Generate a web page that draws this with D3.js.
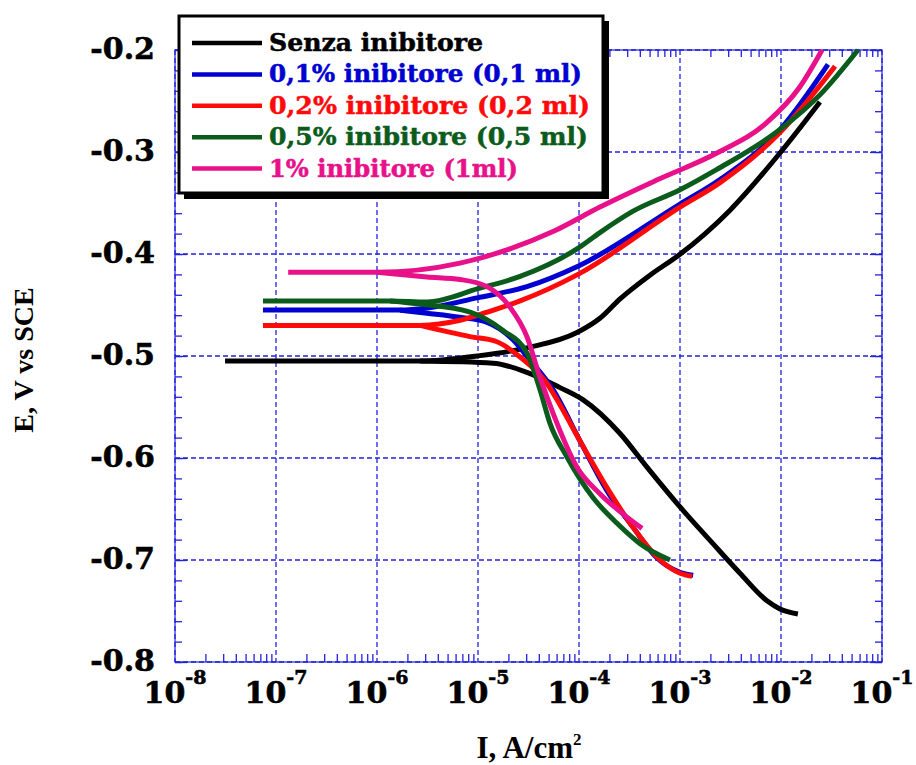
<!DOCTYPE html>
<html>
<head>
<meta charset="utf-8">
<script src="https://cdn.jsdelivr.net/npm/d3@7"></script>
<style>
body { margin: 0; background: #fff; }
svg { display: block; }
</style>
</head>
<body>
<svg width="916" height="765"></svg>
<script>
// [current density A/cm2, potential V vs SCE]
// each curve: anodic branch (from the flat Ecorr tail up) and cathodic branch (down)
var senzaAnodic = [[3.13e-8,-0.505],[2.67e-6,-0.505],[9.77e-6,-0.500],[3.05e-5,-0.492],[9.55e-5,-0.477],
    [1.61e-4,-0.463],[2.55e-4,-0.444],[5.0e-4,-0.421],[9.77e-4,-0.401],[3.13e-3,-0.357],[9.77e-3,-0.301],[2.43e-2,-0.251]]
var senzaCathodic = [[2.67e-6,-0.505],[1.41e-5,-0.507],[3.05e-5,-0.516],[6.49e-5,-0.531],[1.10e-4,-0.543],
    [2.55e-4,-0.576],[4.71e-4,-0.609],[1.00e-3,-0.648],[2.12e-3,-0.684],[3.93e-3,-0.713],[7.26e-3,-0.740],[9.77e-3,-0.748],[1.47e-2,-0.753]]

var inib01Anodic = [[7.43e-8,-0.455],[1.69e-6,-0.455],[3.13e-6,-0.453],[9.77e-6,-0.443],[3.05e-5,-0.432],
    [9.77e-5,-0.412],[1.00e-3,-0.351],[2.49e-3,-0.327],[9.77e-3,-0.278],[2.92e-2,-0.214]]
var inib01Cathodic = [[1.69e-6,-0.455],[3.13e-6,-0.458],[6.64e-6,-0.462],[1.23e-5,-0.467],[2.22e-5,-0.484],
    [3.27e-5,-0.504],[5.53e-5,-0.533],[1.02e-4,-0.583],[1.89e-4,-0.632],[3.43e-4,-0.668],[5.92e-4,-0.698],[1.00e-3,-0.712],[1.35e-3,-0.715]]

var inib02Anodic = [[7.43e-8,-0.470],[2.67e-6,-0.470],[6.64e-6,-0.465],[1.23e-5,-0.457],[2.61e-5,-0.446],
    [9.77e-5,-0.420],[1.00e-3,-0.354],[2.49e-3,-0.330],[9.77e-3,-0.281],[3.43e-2,-0.216]]
var inib02Cathodic = [[2.67e-6,-0.470],[8.34e-6,-0.481],[1.54e-5,-0.486],[2.61e-5,-0.501],[4.82e-5,-0.527],
    [6.49e-5,-0.548],[1.02e-4,-0.583],[1.89e-4,-0.629],[3.43e-4,-0.668],[6.34e-4,-0.700],[1.00e-3,-0.713],[1.32e-3,-0.716]]

var inib05Anodic = [[7.43e-8,-0.446],[1.35e-6,-0.446],[3.13e-6,-0.447],[1.00e-5,-0.434],[2.61e-5,-0.422],
    [9.55e-5,-0.395],[1.61e-4,-0.379],[3.43e-4,-0.358],[1.00e-3,-0.337],[2.32e-3,-0.317],[9.77e-3,-0.278],[2.43e-2,-0.244],[5.78e-2,-0.200]]
var inib05Cathodic = [[1.35e-6,-0.446],[2.67e-6,-0.449],[8.34e-6,-0.457],[1.77e-5,-0.475],[3.05e-5,-0.497],
    [4.11e-5,-0.533],[5.16e-5,-0.566],[7.60e-5,-0.599],[1.38e-4,-0.639],[2.38e-4,-0.664],[4.02e-4,-0.684],[7.96e-4,-0.700]]

var inib1Anodic = [[1.32e-7,-0.418],[1.00e-6,-0.418],[6.64e-6,-0.409],[2.07e-5,-0.395],[5.53e-5,-0.378],
    [1.61e-4,-0.354],[6.05e-4,-0.327],[2.32e-3,-0.301],[7.26e-3,-0.271],[1.54e-2,-0.236],[2.55e-2,-0.200]]
var inib1Cathodic = [[1.00e-6,-0.418],[3.13e-6,-0.4225],[6.64e-6,-0.425],[1.23e-5,-0.432],[2.07e-5,-0.452],
    [3.05e-5,-0.481],[4.11e-5,-0.521],[5.53e-5,-0.556],[9.55e-5,-0.609],[1.61e-4,-0.635],[2.99e-4,-0.658],[4.21e-4,-0.669]]

var legendLabels = ["Senza inibitore", "0,1% inibitore (0,1 ml)", "0,2% inibitore (0,2 ml)",
    "0,5% inibitore (0,5 ml)", "1% inibitore (1ml)"]
var lineColors = ["#000000", "#0000d0", "#ff0a0a", "#0b5c1c", "#e8118a"]

var yTicks = [-0.8, -0.7, -0.6, -0.5, -0.4, -0.3, -0.2]
var xTickExponents = [-8, -7, -6, -5, -4, -3, -2, -1]

var curves = [
    [senzaAnodic, senzaCathodic],
    [inib01Anodic, inib01Cathodic],
    [inib02Anodic, inib02Cathodic],
    [inib05Anodic, inib05Cathodic],
    [inib1Anodic, inib1Cathodic]
]

var svg = d3.select("svg")
var margin = {top: 50, right: 34, bottom: 103, left: 175},
    width = 916 - margin.left - margin.right,
    height = 765 - margin.top - margin.bottom

var x = d3.scaleLog().domain([1e-8, 1e-1]).range([0, width])
var y = d3.scaleLinear().domain([-0.8, -0.2]).range([height, 0])

var g = svg.append("g").attr("transform", "translate(" + margin.left + "," + margin.top + ")")

var gridColor = "#2222dd"

// dashed grid
var xMajor = xTickExponents.map(function(e){ return Math.pow(10, e) })
g.selectAll(".vgrid").data(xMajor).enter().append("line")
    .attr("x1", function(d){ return x(d) }).attr("x2", function(d){ return x(d) })
    .attr("y1", 0).attr("y2", height)
    .attr("stroke", gridColor).attr("stroke-width", 1.3).attr("stroke-dasharray", "5,3")
g.selectAll(".hgrid").data(yTicks).enter().append("line")
    .attr("x1", 0).attr("x2", width)
    .attr("y1", function(d){ return y(d) }).attr("y2", function(d){ return y(d) })
    .attr("stroke", gridColor).attr("stroke-width", 1.3).attr("stroke-dasharray", "5,3")

// frame
g.append("rect").attr("width", width).attr("height", height)
    .attr("fill", "none").attr("stroke", gridColor).attr("stroke-width", 1.2)

// minor/major ticks pointing inward
var xMinor = []
xTickExponents.slice(0, -1).forEach(function(e){
    for (var k = 2; k <= 9; k++) xMinor.push(k * Math.pow(10, e))
})
var yMinor = d3.range(-0.8, -0.199, 0.02)

function tickStyle(sel){
    sel.select(".domain").remove()
    sel.selectAll("line").attr("stroke", gridColor).attr("stroke-width", 1.3)
    sel.selectAll("text").remove()
}
g.append("g").attr("transform", "translate(0," + height + ")")
    .call(d3.axisBottom(x).tickValues(xMinor).tickSize(-8).tickFormat("")).call(tickStyle)
g.append("g").call(d3.axisTop(x).tickValues(xMinor).tickSize(-7).tickFormat("")).call(tickStyle)
g.append("g").call(d3.axisLeft(y).tickValues(yMinor).tickSize(-7).tickFormat("")).call(tickStyle)
g.append("g").attr("transform", "translate(" + width + ",0)")
    .call(d3.axisRight(y).tickValues(yMinor).tickSize(-7).tickFormat("")).call(tickStyle)
g.append("g").call(d3.axisLeft(y).tickValues(yTicks).tickSize(-12).tickFormat("")).call(tickStyle)
g.append("g").attr("transform", "translate(" + width + ",0)")
    .call(d3.axisRight(y).tickValues(yTicks).tickSize(-12).tickFormat("")).call(tickStyle)

// y labels
g.selectAll(".ylab").data(yTicks).enter().append("text")
    .attr("x", -20).attr("y", function(d){ return y(d) + 9 })
    .attr("text-anchor", "end")
    .attr("stroke", "#000").attr("stroke-width", 0.6)
    .style("font-family", "DejaVu Serif").style("font-weight", "bold").style("font-size", "30px")
    .text(function(d){ return d.toFixed(1) })

// x labels 10^n
var xl = g.selectAll(".xlab").data(xTickExponents).enter().append("text")
    .attr("x", function(d){ return x(Math.pow(10, d)) }).attr("y", height + 41)
    .attr("text-anchor", "middle")
    .attr("stroke", "#000").attr("stroke-width", 0.6)
    .style("font-family", "DejaVu Serif").style("font-weight", "bold").style("font-size", "30px")
xl.append("tspan").text("10")
xl.append("tspan").attr("dy", -19).style("font-size", "19px").text(function(d){ return d })

// axis titles
svg.append("text").attr("x", 529).attr("y", 758).attr("text-anchor", "middle")
    .style("font-family", "Liberation Serif").style("font-weight", "bold").style("font-size", "31px")
    .call(function(t){
        t.append("tspan").text("I, A/cm")
        t.append("tspan").attr("dy", -13).style("font-size", "17px").text("2")
    })
svg.append("text").attr("transform", "translate(33,360) rotate(-90)").attr("text-anchor", "middle")
    .style("font-family", "Liberation Serif").style("font-weight", "bold").style("font-size", "28px")
    .text("E, V vs SCE")

// curves
var valueLine = d3.line()
    .x(function(d){ return x(d[0]) })
    .y(function(d){ return y(d[1]) })
    .curve(d3.curveMonotoneX)

curves.forEach(function(c, i){
    c.forEach(function(branch){
        g.append("path")
            .datum(branch)
            .attr("fill", "none")
            .attr("stroke", lineColors[i])
            .attr("stroke-width", 5)
            .attr("stroke-linejoin", "round")
            .attr("d", valueLine)
    })
})

// legend box with shadow
var legendWidths = [214, 313, 321, 319, 249]
var lg = svg.append("g")
lg.append("rect").attr("x", 184).attr("y", 21).attr("width", 425).attr("height", 178).attr("fill", "#000")
lg.append("rect").attr("x", 179).attr("y", 16).attr("width", 424).attr("height", 177)
    .attr("fill", "#fff").attr("stroke", "#000").attr("stroke-width", 3)
legendLabels.forEach(function(lab, i){
    var cy = 43 + i * 31.4
    lg.append("line").attr("x1", 192).attr("x2", 262).attr("y1", cy).attr("y2", cy)
        .attr("stroke", lineColors[i]).attr("stroke-width", 4.5)
    lg.append("text").attr("x", 269).attr("y", cy + 8)
        .attr("fill", lineColors[i])
        .attr("stroke", lineColors[i]).attr("stroke-width", 0.5)
        .attr("textLength", legendWidths[i]).attr("lengthAdjust", "spacingAndGlyphs")
        .style("font-family", "DejaVu Serif").style("font-weight", "bold").style("font-size", "24px")
        .text(lab)
})
</script>
</body>
</html>
